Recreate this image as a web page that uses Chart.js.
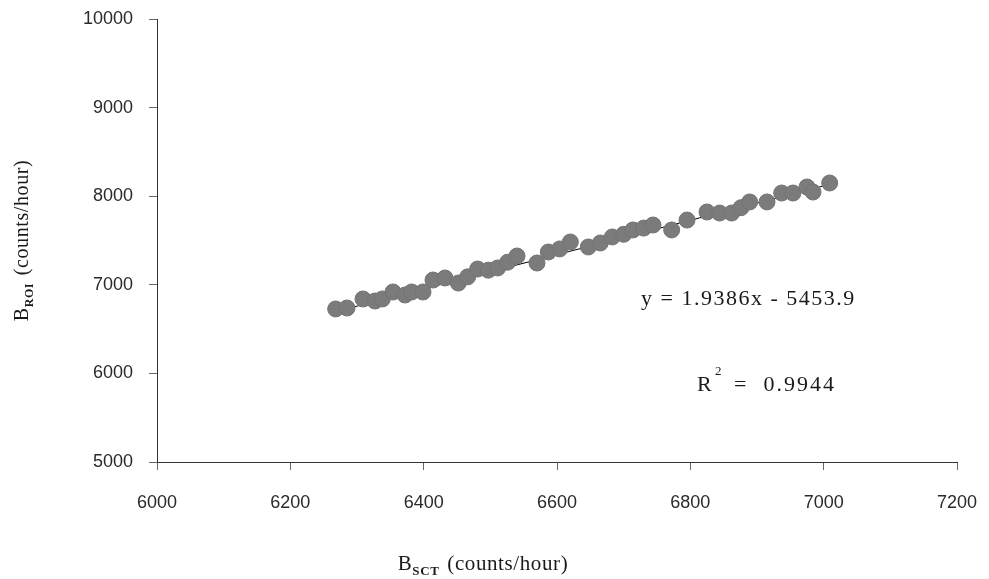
<!DOCTYPE html>
<html>
<head>
<meta charset="utf-8">
<script src="https://cdn.jsdelivr.net/npm/chart.js@4/dist/chart.umd.min.js"></script>
<style>
  html, body { margin: 0; padding: 0; background: #fff; }
  #wrap { width: 989px; height: 579px; }
</style>
</head>
<body>
<div id="wrap"><canvas id="bkg"></canvas></div>
<script>
// B_SCT values (counts/hour)
var sctValues = [6268, 6285, 6309, 6327, 6338, 6354, 6372, 6382, 6399, 6414,
    6432, 6452, 6466, 6481, 6497, 6511, 6526, 6540, 6570, 6587,
    6604, 6620, 6647, 6665, 6683, 6700, 6714, 6730, 6744, 6772,
    6795, 6825, 6844, 6862, 6876, 6889, 6915, 6937, 6954, 6975,
    6984, 7009];
// B_ROI values (counts/hour)
var roiValues = [6727, 6738, 6840, 6817, 6840, 6919, 6885, 6919, 6919, 7054,
    7077, 7020, 7090, 7178, 7165, 7190, 7255, 7325, 7246, 7370,
    7405, 7483, 7427, 7472, 7540, 7570, 7619, 7640, 7675, 7619,
    7731, 7822, 7810, 7810, 7870, 7935, 7935, 8036, 8036, 8104,
    8047, 8149];
var slope = 1.9386;
var intercept = -5453.9;
var rSquared = '0.9944';
var xTicks = [6000, 6200, 6400, 6600, 6800, 7000, 7200];
var yTicks = [5000, 6000, 7000, 8000, 9000, 10000];

var points = sctValues.map(function (v, i) { return {x: v, y: roiValues[i]}; });
var xMin = Math.min.apply(null, sctValues);
var xMax = Math.max.apply(null, sctValues);
var trend = [xMin, xMax].map(function (v) { return {x: v, y: slope * v + intercept}; });

var SERIF = '"Liberation Serif", "Times New Roman", serif';

// draws base + subscript + rest, starting at x (left aligned)
function subText(ctx, base, sub, rest, x, y, size) {
    ctx.textAlign = 'left';
    ctx.textBaseline = 'alphabetic';
    ctx.font = size + 'px ' + SERIF;
    ctx.fillText(base, x, y);
    x += ctx.measureText(base).width;
    ctx.font = 'bold ' + Math.round(size * 0.6) + 'px ' + SERIF;
    ctx.fillText(sub, x, y + 5);
    x += ctx.measureText(sub).width + 2;
    ctx.font = size + 'px ' + SERIF;
    ctx.fillText(rest, x, y);
}
function subWidth(ctx, base, sub, rest, size) {
    ctx.font = size + 'px ' + SERIF;
    var w = ctx.measureText(base).width + ctx.measureText(rest).width;
    ctx.font = 'bold ' + Math.round(size * 0.6) + 'px ' + SERIF;
    return w + ctx.measureText(sub).width + 2;
}

var textPlugin = {
    id: 'texts',
    afterDraw: function (chart) {
        var ctx = chart.ctx;
        var a = chart.chartArea;
        ctx.save();
        ctx.fillStyle = '#1a1a1a';
        ctx.letterSpacing = '0.6px';
        // x title
        var w = subWidth(ctx, 'B', 'SCT', ' (counts/hour)', 21);
        subText(ctx, 'B', 'SCT', ' (counts/hour)', 483 - w / 2, 570, 21);
        // y title
        ctx.save();
        ctx.translate(28, (a.top + a.bottom) / 2);
        ctx.rotate(-Math.PI / 2);
        w = subWidth(ctx, 'B', 'ROI', ' (counts/hour)', 20);
        subText(ctx, 'B', 'ROI', ' (counts/hour)', -w / 2, 0, 20);
        ctx.restore();
        // trendline equation and R squared
        ctx.letterSpacing = '1.5px';
        ctx.font = '22px ' + SERIF;
        ctx.textAlign = 'left';
        ctx.textBaseline = 'middle';
        ctx.fillText('y = ' + slope + 'x - ' + (-intercept).toFixed(1), 641, 299);
        ctx.fillText('R', 697, 385);
        ctx.letterSpacing = '2px';
        ctx.fillText('=  ' + rSquared, 734, 385);
        ctx.font = '13px ' + SERIF;
        ctx.fillText('2', 715, 372);
        ctx.restore();
    }
};

var tickFont = { family: '"Liberation Sans", Arial, sans-serif', size: 18 };
var plainNum = function (v) { return String(v); };

var ctx = document.getElementById('bkg').getContext('2d');
var chart = new Chart(ctx, {
    type: 'scatter',
    data: {
        datasets: [{
            label: 'data',
            data: points,
            backgroundColor: '#7b7b7b',
            borderColor: '#747474',
            borderWidth: 1,
            pointRadius: 8,
            order: 1
        }, {
            type: 'line',
            label: 'trend',
            data: trend,
            borderColor: '#000',
            borderWidth: 1,
            pointRadius: 0,
            fill: false,
            order: 2
        }]
    },
    options: {
        responsive: true,
        maintainAspectRatio: false,
        animation: false,
        layout: { padding: { left: 0, top: 19, right: 32, bottom: 0 } },
        plugins: {
            legend: { display: false },
            tooltip: { enabled: false }
        },
        scales: {
            x: {
                type: 'linear',
                min: 6000,
                max: 7200,
                afterBuildTicks: function (s) { s.ticks = xTicks.map(function (v) { return {value: v}; }); },
                afterFit: function (s) { s.height = 117; s.paddingLeft = 0; s.paddingRight = 0; },
                grid: { drawOnChartArea: false, drawTicks: true, tickLength: 8, color: '#666' },
                border: { display: true, color: '#333', width: 1 },
                ticks: {
                    color: '#2a2a2a',
                    padding: 22,
                    maxRotation: 0,
                    callback: plainNum,
                    font: tickFont
                }
            },
            y: {
                type: 'linear',
                min: 5000,
                max: 10000,
                afterBuildTicks: function (s) { s.ticks = yTicks.map(function (v) { return {value: v}; }); },
                afterFit: function (s) { s.width = 157; s.paddingTop = 0; s.paddingBottom = 0; },
                grid: { drawOnChartArea: false, drawTicks: true, tickLength: 8, color: '#666' },
                border: { display: true, color: '#333', width: 1 },
                ticks: {
                    color: '#2a2a2a',
                    padding: 16,
                    callback: plainNum,
                    font: tickFont
                }
            }
        }
    },
    plugins: [textPlugin]
});
</script>
</body>
</html>
